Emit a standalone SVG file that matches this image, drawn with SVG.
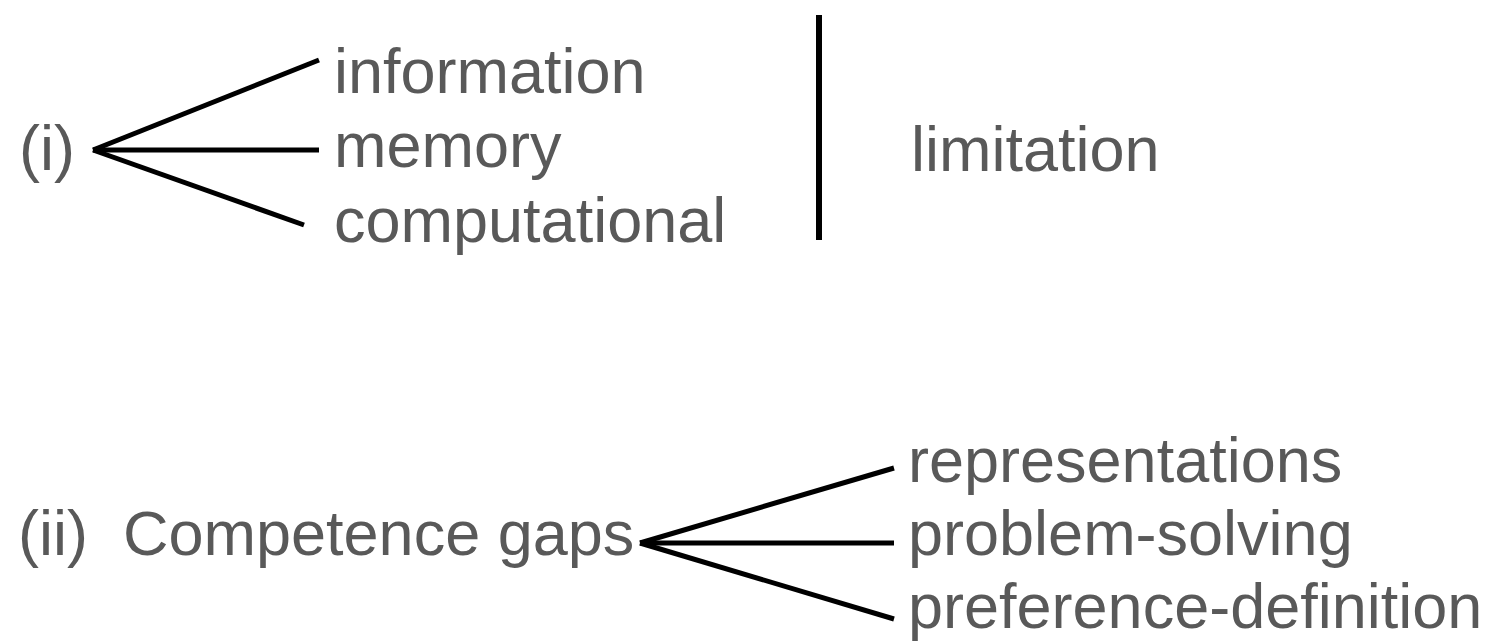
<svg xmlns="http://www.w3.org/2000/svg" width="1500" height="642" viewBox="0 0 1500 642">
  <style>
    .t { font-family: "Liberation Sans", Arial, sans-serif; font-size: 63px; fill: #595959; }
    .c { stroke: #000; stroke-width: 5; fill: none; stroke-linecap: butt; }
  </style>
  <rect width="1500" height="642" fill="#fff"/>

  <g id="connectors">
    <!-- (i) fan -->
    <line class="c" x1="93" y1="150" x2="319" y2="60"/>
    <line class="c" x1="93" y1="150" x2="319" y2="150"/>
    <line class="c" x1="93" y1="150" x2="304" y2="225"/>
    <!-- divider -->
    <line class="c" x1="819" y1="15" x2="819" y2="240" style="stroke-width:6"/>
    <!-- (ii) fan -->
    <line class="c" x1="640" y1="543" x2="894" y2="468"/>
    <line class="c" x1="640" y1="543" x2="894" y2="543"/>
    <line class="c" x1="640" y1="543" x2="894" y2="619"/>
  </g>

  <g id="node-i"><text class="t" x="19" y="170">(i)</text></g>
  <g id="node-information"><text class="t" x="334" y="93">information</text></g>
  <g id="node-memory"><text class="t" x="334" y="167">memory</text></g>
  <g id="node-computational"><text class="t" x="334" y="242">computational</text></g>
  <g id="node-limitation"><text class="t" x="911" y="171">limitation</text></g>

  <g id="node-ii"><text class="t" x="18" y="555" xml:space="preserve">(ii)  Competence gaps</text></g>
  <g id="node-representations"><text class="t" x="908" y="482">representations</text></g>
  <g id="node-problem-solving"><text class="t" x="908" y="555">problem-solving</text></g>
  <g id="node-preference-definition"><text class="t" x="908" y="628">preference-definition</text></g>
</svg>
